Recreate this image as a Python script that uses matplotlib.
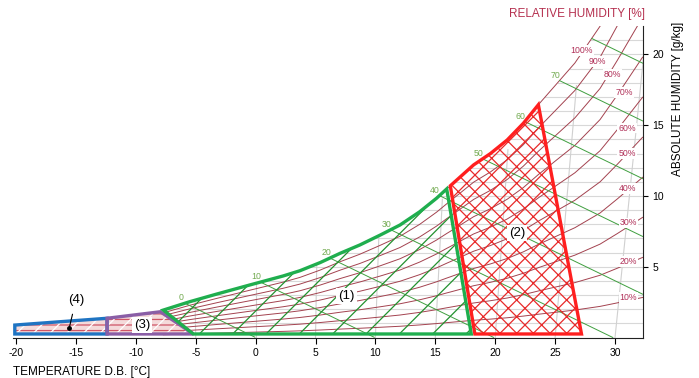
import numpy as np
import matplotlib.pyplot as plt
from matplotlib.patches import Polygon

plt.rcParams['font.family'] = ['Liberation Sans', 'DejaVu Sans']
plt.rcParams['hatch.linewidth'] = 0.9

# saturation curve (100 %): temperature [C], abs. humidity [g/kg]
sat_t = [-7.7, -5.5, -3.25, -0.5, 2.3, 3.7, 5.4, 7.05, 8.7, 10.4, 12.05, 13.7,
         15.1, 15.95, 16.25, 18.2, 19.6, 21.0, 22.35, 23.6, 26.65, 28.75, 30.2, 32.3]
sat_w = [1.94, 2.53, 3.07, 3.71, 4.35, 4.72, 5.3, 5.95, 6.54, 7.24, 7.95, 8.89,
         9.84, 10.5, 10.72, 12.2, 13.0, 13.96, 15.14, 16.45, 19.4, 22.0, 24.5, 28.3]

rh_levels = [10, 20, 30, 40, 50, 60, 70, 80, 90, 100]
enthalpy_levels = [0, 10, 20, 30, 40, 50, 60, 70, 80]

# zones: top edges follow the saturation curve between these temperatures
zone1_top = (-7.7, 15.95)
zone1_low_t = [18.0, -5.2]
zone1_low_w = [0.25, 0.25]
zone2_top = (16.25, 23.6)
zone2_low_t = [27.2, 18.3]
zone2_low_w = [0.25, 0.25]
zone3_t = [-12.4, -7.95, -5.2, -12.4]
zone3_w = [1.36, 1.82, 0.25, 0.25]
zone4_t = [-20.1, -12.4, -12.4, -20.1]
zone4_w = [0.88, 1.36, 0.25, 0.25]

xticks = [-20, -15, -10, -5, 0, 5, 10, 15, 20, 25, 30]
yticks = [5, 10, 15, 20]

sat_t = np.array(sat_t)
sat_w = np.array(sat_w)

fig = plt.figure(figsize=(6.99, 3.78), dpi=100)
ax = fig.add_axes([0.0186, 0.1071, 0.9007, 0.8236])
ax.set_xlim(-20.25, 32.3)
ax.set_ylim(0, 22)

# light grey grid
for w in range(1, 22):
    t0 = np.interp(w, sat_w, sat_t)
    ax.plot([t0, 32.3], [w, w], color='#d8d8d8', lw=0.8, zorder=1)
for t in range(-5, 31, 5):
    top = np.interp(t, sat_t, sat_w)
    ax.plot([t, t + 0.004 * t * top], [0, top], color='#d0d0d0', lw=0.8, zorder=1)

# relative humidity curves
for rh in rh_levels:
    ax.plot(sat_t, sat_w * rh / 100, color='#a3424f', lw=0.7, zorder=2)

rh_pos = {100: (27.2, 20.3), 90: (28.5, 19.5), 80: (29.8, 18.6), 70: (30.75, 17.3),
          60: (31.0, 14.8), 50: (31.0, 13.0), 40: (31.0, 10.55), 30: (31.1, 8.1),
          20: (31.1, 5.36), 10: (31.1, 2.84)}
for rh in rh_levels:
    x, y = rh_pos[rh]
    ax.text(x, y, f'{rh}%', fontsize=6.3, color='#b03058', ha='center', va='center', zorder=6,
            bbox=dict(boxstyle='square,pad=0.1', fc='white', ec='none'))

# enthalpy lines
tt = np.linspace(-8, 32.3, 600)
for h in enthalpy_levels:
    ww = (h - 1.006 * tt) / 2.45
    ok = (ww <= np.interp(tt, sat_t, sat_w)) & (ww >= 0)
    ax.plot(tt[ok], ww[ok], color='#3f9f3f', lw=0.7, zorder=2)
    if h <= 70:
        ax.annotate(str(h), (tt[ok][0], ww[ok][0]), xytext=(-3.2, 4), textcoords='offset points',
                    fontsize=6.3, color='#72aa50', ha='center', va='center', zorder=6)


def top_edge(rng):
    m = (sat_t >= rng[0]) & (sat_t <= rng[1])
    return list(zip(sat_t[m], sat_w[m]))


zone1 = top_edge(zone1_top) + list(zip(zone1_low_t, zone1_low_w))
zone2 = top_edge(zone2_top) + list(zip(zone2_low_t, zone2_low_w))
zone3 = list(zip(zone3_t, zone3_w))
zone4 = list(zip(zone4_t, zone4_w))

# hatches
ax.add_patch(Polygon(zone1, fill=False, hatch='/', edgecolor='#23912f', lw=0, zorder=3))
ax.add_patch(Polygon(zone2, fill=False, hatch='xx', edgecolor='#e82a2a', lw=0, zorder=3))
for z in (zone3, zone4):
    ax.add_patch(Polygon(z, facecolor='#f4dada', hatch='---', edgecolor='#cf5566', lw=0, zorder=3))
    ax.add_patch(Polygon(z, fill=False, hatch='//', edgecolor='white', lw=0, zorder=3))

# borders
for z, c in ((zone4, '#1f74c2'), (zone3, '#8a5ea6'), (zone1, '#1fae4e'), (zone2, '#ff1f1f')):
    ax.add_patch(Polygon(z, fill=False, edgecolor=c, lw=2.4, joinstyle='miter',
                         zorder=4, clip_on=False))

box = dict(boxstyle='square,pad=0.15', fc='white', ec='none')
ax.text(7.6, 2.95, '(1)', fontsize=9.5, ha='center', va='center', zorder=6, bbox=box)
ax.text(21.8, 7.36, '(2)', fontsize=9.5, ha='center', va='center', zorder=6, bbox=box)
ax.text(-9.5, 0.88, '(3)', fontsize=9.5, ha='center', va='center', zorder=6, bbox=box)
ax.annotate('(4)', xy=(-15.55, 0.7), xytext=(-15.0, 2.65), fontsize=9.5, ha='center',
            va='center', zorder=6,
            arrowprops=dict(arrowstyle='-', color='black', lw=0.8, shrinkA=4, shrinkB=0))
ax.plot([-15.55], [0.7], 'o', color='black', ms=2.5, zorder=6)

# axes styling
for s in ('top', 'left'):
    ax.spines[s].set_visible(False)
ax.spines['bottom'].set_color('#222222')
ax.spines['right'].set_color('#222222')
ax.spines['bottom'].set_linewidth(0.8)
ax.spines['right'].set_linewidth(0.8)
ax.yaxis.tick_right()
ax.set_xticks(xticks)
ax.set_yticks(yticks)
ax.set_xticklabels([str(v) for v in xticks])
ax.tick_params(axis='x', direction='out', length=4.5, width=0.8, pad=3, labelsize=7.5)
ax.tick_params(axis='y', direction='out', length=3.5, width=0.8, pad=3.5, labelsize=7.5)

fig.text(0.0186, 0.016, 'TEMPERATURE D.B. [°C]', fontsize=8.5, ha='left', va='center')
fig.text(0.8255, 0.963, 'RELATIVE HUMIDITY [%]', fontsize=8.5, color='#b5304f',
         ha='center', va='center')
fig.text(0.970, 0.738, 'ABSOLUTE HUMIDITY [g/kg]', fontsize=8.5, rotation=90,
         ha='center', va='center')

fig.savefig('out.png', dpi=100)
